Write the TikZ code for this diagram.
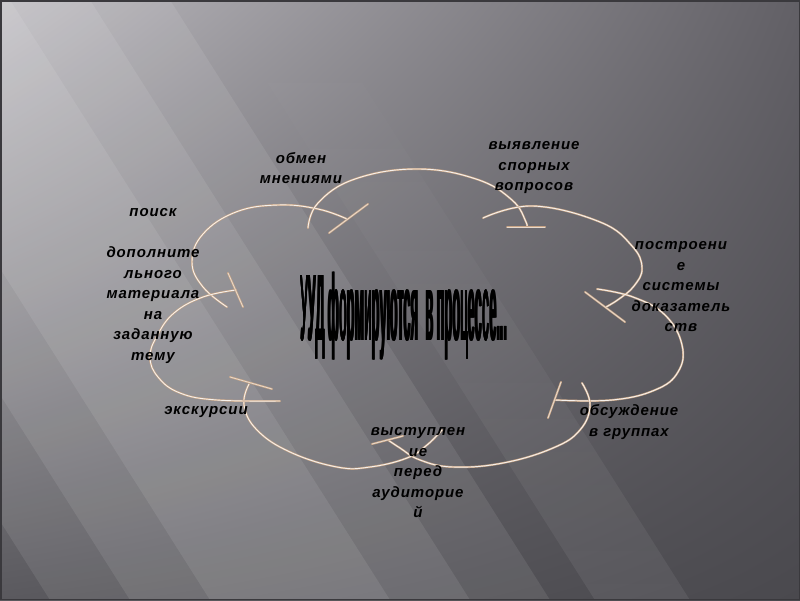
\documentclass[tikz,border=0pt]{standalone}
\usepackage{fontspec}
\setmainfont{Liberation Sans}
\newfontfamily\lblfont{Liberation Sans}[LetterSpace=6]
\usetikzlibrary{fadings,shadings}
\definecolor{bgUL}{HTML}{BCBABF}
\definecolor{bgUR}{HTML}{626066}
\definecolor{bgLL}{HTML}{5A595E}
\definecolor{bgLR}{HTML}{4A494E}
\definecolor{arctan}{HTML}{C9A585}
\definecolor{arcwhite}{HTML}{F6F1EC}
\definecolor{frame}{HTML}{3A393D}
\tikzfading[name=beamfade, top color=transparent!100, bottom color=transparent!0]
\newcommand\ttltext{УУД формируются\ \ в процессе...}
\newcommand\heavyttl{\rlap{\kern0.35pt\ttltext}\rlap{\kern0.7pt\ttltext}\ttltext}
\tikzset{
  arcline/.style={draw=arctan, line width=0.55pt, double=arcwhite, double distance=0.9pt, line cap=round},
  barline/.style={draw=arctan, line width=0.6pt, double=arcwhite!70!arctan, double distance=0.8pt, line cap=round},
  lbl/.style={font={\lblfont\bfseries\itshape\fontsize{15}{20.5}\selectfont}, align=center, inner sep=0pt, text=black},
  beam/.style={fill=white, fill opacity=0.085},
}
\begin{document}
\begin{tikzpicture}[x=1pt,y=-1pt]
\useasboundingbox (0,0) rectangle (800,600);
% background
\shade[upper left=bgUL, upper right=bgUR, lower left=bgLL, lower right=bgLR] (0,0) rectangle (800,600);
\begin{scope}
\clip (0,0) rectangle (800,600);
\fill[beam] (-170,0) -- (10,0) -- (390,600) -- (210,600) -- cycle;
\fill[beam] (-250,0) -- (90,0) -- (470,600) -- (130,600) -- cycle;
\fill[beam] (-330,0) -- (170,0) -- (550,600) -- (50,600) -- cycle;
\fill[white, fill opacity=0.07, path fading=beamfade] (215,0) -- (310,0) -- (690,600) -- (595,600) -- cycle;
\end{scope}
\draw[frame, line width=1.5pt] (0.75,0.75) rectangle (799.25,599.25);

% arcs of the cloud
\draw[arcline] plot[smooth, tension=0.7] coordinates {(227,307) (203,287) (192,262) (203,234) (236,212) (278,205) (318,209) (347,219)};
\draw[barline] (329,233) -- (368,204);
\draw[arcline] plot[smooth, tension=0.7] coordinates {(308,228) (318,203) (355,179) (417,169) (476,179) (512,200) (526,222) (526,227)};
\draw[barline] (507,227) -- (545,227);
\draw[arcline] plot[smooth, tension=0.7] coordinates {(483,218) (533,206) (600,222) (632,246) (642,268) (634,286) (619,299) (606,307)};
\draw[barline] (585,292) -- (625,322);
\draw[arcline] plot[smooth, tension=0.7] coordinates {(597,289) (633,297) (665,315) (682,345) (678,372) (655,390) (612,400) (555,400)};
\draw[barline] (561,382) -- (548,418);
\draw[arcline] plot[smooth, tension=0.7] coordinates {(582,383) (590,405) (580,430) (553,448) (503,463) (453,467) (420,460) (400,448) (388,440)};
\draw[barline] (372,444) -- (403,436);
\draw[arcline] plot[smooth, tension=0.7] coordinates {(442,430) (427,445) (407,458) (370,467) (337,467) (290,452) (257,430) (244,405) (249,384)};
\draw[barline] (230,377) -- (272,389);
\draw[arcline] plot[smooth, tension=0.7] coordinates {(280,401) (217,400) (180,393) (158,377) (150,357) (157,336) (174,313) (203,297) (236,290)};
\draw[barline] (228,273) -- (243,307);

% labels
\node[lbl] (obmen) at (301,168) {обмен\\мнениями};
\node[lbl] (vyyav) at (534,168) {выявление\\спорных\\вопросов};
\node[lbl] (poisk) at (153,286) {поиск\\\mbox{}\\дополните\\льного\\материала\\на\\заданную\\тему};
\node[lbl] (postr) at (681,287) {построени\\е\\системы\\доказатель\\ств};
\node[lbl] (ekskur) at (206,412) {экскурсии};
\node[lbl] (obsuzh) at (629,422) {обсуждение\\в группах};
\node[lbl] (vystup) at (418,473) {выступлен\\ие\\перед\\аудиторие\\й};
\node[inner sep=0pt] (title) at (403.5,316) {\resizebox*{207pt}{88pt}{\bfseries\heavyttl}};
\end{tikzpicture}
\end{document}
